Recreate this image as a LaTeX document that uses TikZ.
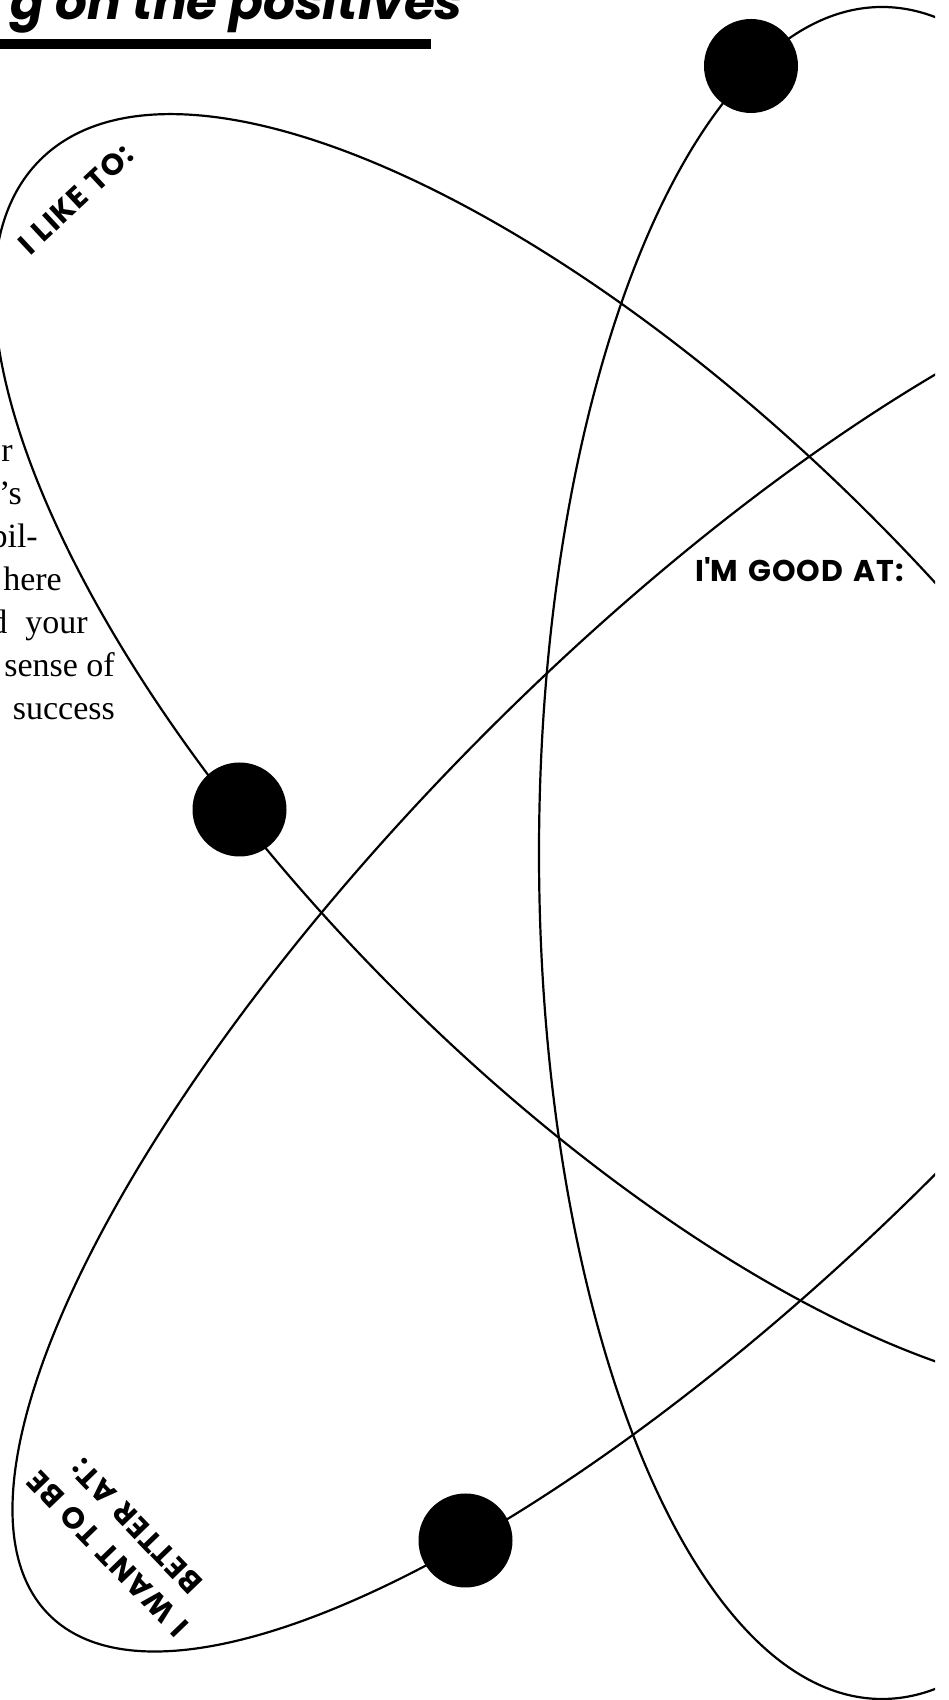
\documentclass[tikz,border=0pt]{standalone}
\usepackage{fontspec}
\setmainfont{Liberation Serif}
\setsansfont{Poppins}
\newfontfamily\headfont{Poppins}[LetterSpace=4, WordSpace=1.3]
\usetikzlibrary{positioning}

\begin{document}
\begin{tikzpicture}[x=1pt, y=1pt,
  orbit/.style={line width=2.2pt},
  electron/.style={circle, fill=black, inner sep=0pt, minimum size=94pt},
  heading/.style={font=\headfont\bfseries\fontsize{30}{40}\selectfont, inner sep=0pt, align=center},
  body/.style={font=\rmfamily\fontsize{34}{43}\selectfont, inner sep=0pt, anchor=base east}]
\fill[white] (0,0) rectangle (948,1700);
\useasboundingbox (0,0) rectangle (948,1700);
\begin{scope}
\clip (0,0) rectangle (935,1700);
% title and rule
\node[anchor=base east, inner sep=0pt, font=\sffamily\bfseries\itshape\fontsize{50}{56}\selectfont] (title) at (463,1680) {g on the positives};
\fill (0,1651) rectangle (431,1661);
% three orbits
\draw[orbit, rotate around={-45:(634,946)}] (634,946) ellipse [x radius=840pt, y radius=336pt];
\draw[orbit] (882,847) ellipse [x radius=343pt, y radius=846pt];
\draw[orbit, rotate around={45:(711,747)}] (711,747) ellipse [x radius=936pt, y radius=315pt];
% electrons
\node[electron] (etop) at (751,1634) {};
\node[electron] (eleft) at (239.5,890.5) {};
\node[electron] (ebottom) at (465.5,159.5) {};
% labels
\node[heading, rotate=43] (like) at (76,1501) {I LIKE TO:};
\node[heading, anchor=base west] (good) at (695,1118) {I\textquotesingle M GOOD AT:};
\node[heading, rotate=134] (better) at (122,160) {I WANT TO BE\\BETTER AT:};
% intro text, cut off at the left
\node[body] (l1) at (13,1238) {r};
\node[body] (l2) at (22,1195) {’s};
\node[body] (l3) at (38,1152) {bil-};
\node[body] (l4) at (62,1109) {here};
\node[body] (l5) at (88,1066) {d\hspace{18pt}your};
\node[body] (l6) at (115,1023) {sense of};
\node[body] (l7) at (115,980) {success};
\end{scope}
\end{tikzpicture}
\end{document}
